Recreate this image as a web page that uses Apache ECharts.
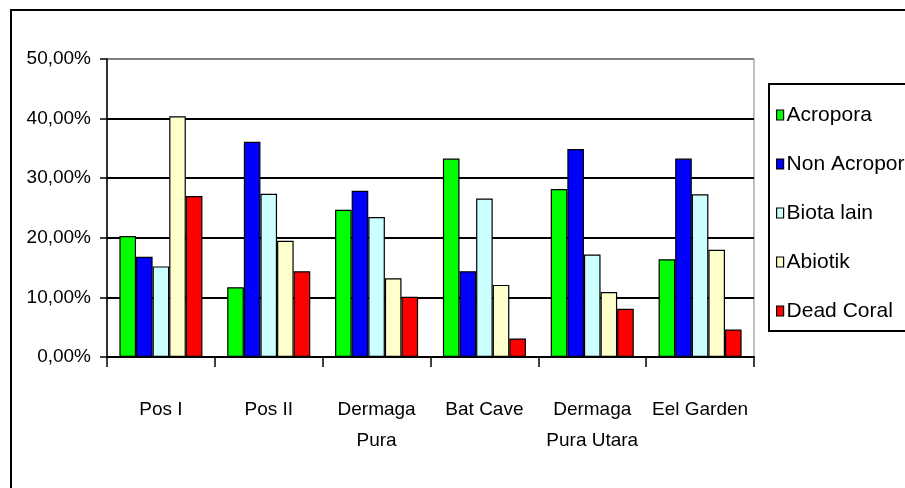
<!DOCTYPE html>
<html>
<head>
<meta charset="utf-8">
<style>html,body{margin:0;padding:0;background:#fff;}#c{width:905px;height:488px;}</style>
<script src="https://cdn.jsdelivr.net/npm/echarts@6/dist/echarts.min.js"></script>
</head>
<body>
<div id="c"></div>
<script>
var categories = ['Pos I', 'Pos II', 'Dermaga\nPura', 'Bat Cave', 'Dermaga\nPura Utara', 'Eel Garden'];
var seriesNames = ['Acropora', 'Non Acropora', 'Biota lain', 'Abiotik', 'Dead Coral'];
var acropora    = [20.3, 11.7, 24.7, 33.3, 28.2, 16.4];
var nonAcropora = [16.8, 36.1, 27.9, 14.4, 34.9, 33.3];
var biotaLain   = [15.2, 27.4, 23.5, 26.6, 17.2, 27.3];
var abiotik     = [40.4, 19.5, 13.2, 12.1, 10.9, 18.0];
var deadCoral   = [27.0, 14.4, 10.1, 3.1, 8.1, 4.6];
var yTicks = [0, 10, 20, 30, 40, 50];

var values = [acropora, nonAcropora, biotaLain, abiotik, deadCoral];
var colors = ['#00FF00', '#0000FF', '#CCFFFF', '#FFFFCC', '#FF0000'];
var FONT = '"Liberation Sans", Arial, sans-serif';

var chart = echarts.init(document.getElementById('c'), null, {renderer: 'canvas'});
chart.setOption({
  animation: false,
  backgroundColor: '#fff',
  textStyle: {fontFamily: FONT},
  graphic: [
    {type: 'rect', shape: {x: 11, y: 10, width: 920, height: 500}, style: {fill: 'none', stroke: '#000', lineWidth: 2}, z: 100},
    {type: 'rect', shape: {x: 769, y: 84, width: 160, height: 247}, style: {fill: '#fff', stroke: '#000', lineWidth: 2}, z: 1}
  ],
  grid: {left: 107, top: 59, right: 151, bottom: 131, show: true, borderColor: '#808080', borderWidth: 1, backgroundColor: 'transparent'},
  legend: {
    orient: 'vertical', left: 776, top: 104, padding: 0,
    itemWidth: 7, itemHeight: 10, itemGap: 27,
    icon: 'rect',
    itemStyle: {borderColor: '#000', borderWidth: 1.2},
    textStyle: {fontFamily: FONT, fontSize: 21, color: '#000', lineHeight: 22, padding: [0, 0, 0, -2]},
    data: seriesNames, z: 5
  },
  xAxis: {
    type: 'category', data: categories,
    axisLine: {lineStyle: {color: '#000', width: 2}},
    axisTick: {show: true, length: 10, inside: false, lineStyle: {color: '#000', width: 1.5}},
    axisLabel: {fontFamily: FONT, fontSize: 19, color: '#000', margin: 37, lineHeight: 31, interval: 0}
  },
  yAxis: {
    type: 'value', min: yTicks[0], max: yTicks[yTicks.length - 1], interval: 10,
    axisLine: {show: true, lineStyle: {color: '#000', width: 1.5}},
    axisTick: {show: true, length: 7, lineStyle: {color: '#000', width: 1.5}},
    axisLabel: {fontFamily: FONT, fontSize: 19, color: '#000', margin: 16,
      formatter: function (v) { return v.toFixed(2).replace('.', ',') + '%'; }},
    splitLine: {show: true, lineStyle: {color: ['#000', '#000', '#000', '#000', '#000', '#808080'], width: 2}}
  },
  series: seriesNames.map(function (n, i) {
    return {
      name: n, type: 'bar', data: values[i],
      barGap: '0%', barCategoryGap: '23%',
      itemStyle: {color: colors[i], borderColor: '#000', borderWidth: 1.2}
    };
  })
});
</script>
</body>
</html>
